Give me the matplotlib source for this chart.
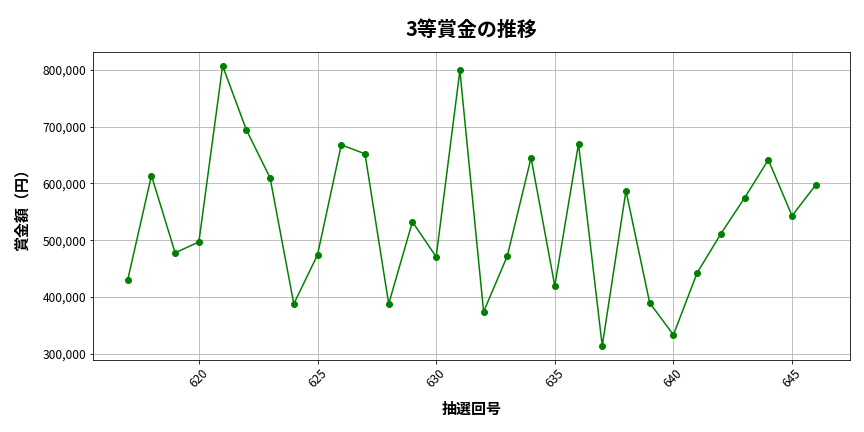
import matplotlib
matplotlib.use("Agg")
import matplotlib.pyplot as plt
import matplotlib.ticker as mticker

plt.rcParams['font.family'] = ['Noto Sans CJK JP', 'DejaVu Sans']

draws = list(range(617, 647))
prize = [430300, 613900, 477800, 497200, 807000, 694400, 609900, 388000,
         474300, 668000, 652100, 388000, 532400, 470800, 798800, 374000,
         472500, 645100, 419700, 669700, 314100, 587000, 389800, 333500,
         442600, 511300, 574600, 641500, 543000, 597500]

fig, ax = plt.subplots(figsize=(12, 6), dpi=72)
ax.plot(draws, prize, color='green', marker='o', markersize=6, linewidth=1.5)
ax.set_title('3等賞金の推移', fontsize=20, fontweight='bold', pad=16)
ax.set_xlabel('抽選回号', fontsize=15, fontweight='bold', labelpad=11)
ax.set_ylabel('賞金額（円）', fontsize=15, fontweight='bold', labelpad=13)
ax.yaxis.set_major_formatter(mticker.FuncFormatter(lambda v, p: f'{int(v):,}'))
ax.tick_params(axis='both', labelsize=12)
plt.setp(ax.get_xticklabels(), rotation=45)
ax.grid(True, color='#b0b0b0', linewidth=0.8)
fig.subplots_adjust(left=0.108, right=0.984, top=0.88, bottom=0.167)
fig.savefig('out.png')
